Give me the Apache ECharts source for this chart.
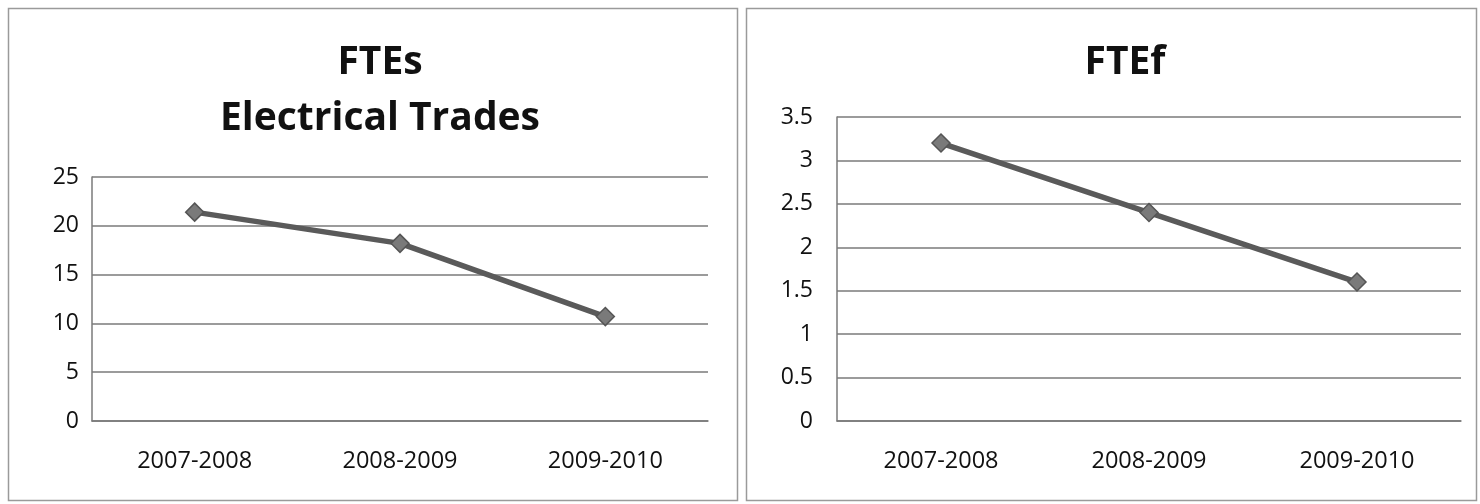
<!DOCTYPE html>
<html><head><meta charset="utf-8">
<script src="https://cdn.jsdelivr.net/npm/echarts@6/dist/echarts.min.js"></script>
<style>html,body{margin:0;padding:0;background:#fff}#c{width:1480px;height:504px}</style>
</head><body><div id="c"></div>
<script>
const categories = ['2007-2008', '2008-2009', '2009-2010'];
const fteElectrical = [21.4, 18.2, 10.7];
const fteF = [3.2, 2.4, 1.6];
const leftTitle = 'FTEs\nElectrical Trades';
const rightTitle = 'FTEf';

const FONT = 'Open Sans';
const chart = echarts.init(document.getElementById('c'));
const lineColor = '#5a5a5a';
const gridColor = '#7a7a7a';
function xAxis(i){return {type:'category',gridIndex:i,data:categories,boundaryGap:true,
  axisLine:{lineStyle:{color:gridColor,width:1.5}},axisTick:{show:false},
  axisLabel:{color:'#111',fontFamily:FONT,fontSize:23.5,margin:28}};}
function yAxis(i,max,interval,margin){return {type:'value',gridIndex:i,min:0,max:max,interval:interval,
  axisLine:{show:true,lineStyle:{color:gridColor,width:1.5}},axisTick:{show:false},
  splitLine:{lineStyle:{color:gridColor,width:1.5}},
  axisLabel:{color:'#111',fontFamily:FONT,fontSize:23,margin:margin}};}
function series(i,data){return {type:'line',xAxisIndex:i,yAxisIndex:i,data:data,
  symbol:'diamond',symbolSize:18,lineStyle:{color:lineColor,width:5.5},
  itemStyle:{color:'#7a7a7a',borderColor:'#555',borderWidth:1.5}};}
chart.setOption({
  backgroundColor:'#fff',
  animation:false,
  title:[
    {text:leftTitle,left:375,top:30,textAlign:'center',textStyle:{fontFamily:FONT,fontWeight:'bold',fontSize:39,lineHeight:56,color:'#111'}},
    {text:rightTitle,left:1120,top:30,textAlign:'center',textStyle:{fontFamily:FONT,fontWeight:'bold',fontSize:39,lineHeight:56,color:'#111'}}
  ],
  grid:[
    {left:92,right:772,top:177,bottom:83},
    {left:837,right:19,top:117,bottom:83}
  ],
  xAxis:[xAxis(0),xAxis(1)],
  yAxis:[yAxis(0,25,5,13),yAxis(1,3.5,0.5,24)],
  series:[series(0,fteElectrical),series(1,fteF)],
  graphic:[
    {type:'rect',shape:{x:8.5,y:8.5,width:729,height:492},style:{fill:null,stroke:'#9a9a9a',lineWidth:1.5}},
    {type:'rect',shape:{x:746.5,y:8.5,width:730,height:492},style:{fill:null,stroke:'#9a9a9a',lineWidth:1.5}}
  ]
});
</script></body></html>
